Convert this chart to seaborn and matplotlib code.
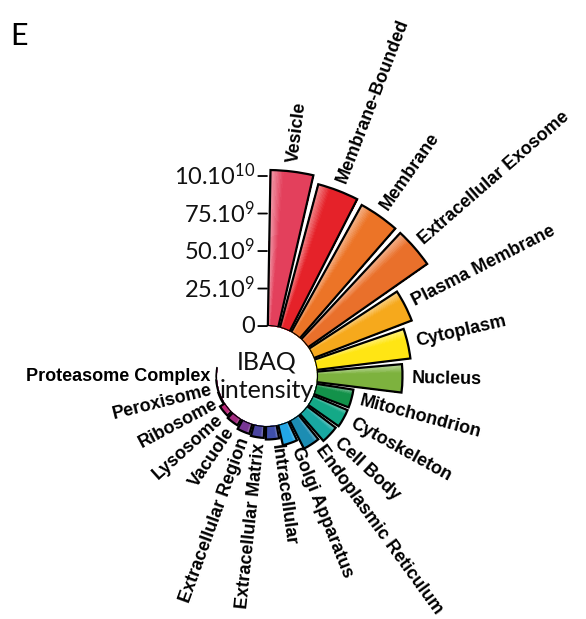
import numpy as np
import matplotlib
matplotlib.use('Agg')
import matplotlib.pyplot as plt
import seaborn as sns

# cellular compartments, clockwise from the top
compartments = ['Vesicle', 'Membrane-Bounded', 'Membrane', 'Extracellular Exosome',
                'Plasma Membrane', 'Cytoplasm', 'Nucleus', 'Mitochondrion',
                'Cytoskeleton', 'Cell Body', 'Endoplasmic Reticulum', 'Golgi Apparatus',
                'Intracellular', 'Extracellular Matrix', 'Extracellular Region',
                'Vacuole', 'Lysosome', 'Ribosome', 'Peroxisome', 'Proteasome Complex']
# IBAQ intensity, in units of 1e9
ibaq = [104, 99, 97, 97, 70, 63, 57, 25, 25, 24, 21, 14, 9, 8, 7, 5, 4, 1.0, 0.6, 0.3]
bar_colors = ['#E3405C', '#E52229', '#EC7427', '#E9702B', '#F6A91C', '#FFE514',
              '#7DB23E', '#13924A', '#14A987', '#18A8A2', '#1C8DB3', '#22A6E6',
              '#3F4FAA', '#4A44A0', '#783695', '#A22B80', '#BC2779', '#A1246E',
              '#8E1E60', '#6E1A4E']

tick_values = [0, 25, 50, 75, 100]
tick_labels = ['0', r'$\mathregular{25.10^{9}}$', r'$\mathregular{50.10^{9}}$',
               r'$\mathregular{75.10^{9}}$', r'$\mathregular{10.10^{10}}$']

sns.set_theme(style='white')
plt.rcParams['font.family'] = ['Lato', 'DejaVu Sans']
plt.rcParams['mathtext.fontset'] = 'custom'
plt.rcParams['mathtext.rm'] = 'Lato'

fig = plt.figure(figsize=(5.86, 6.19), dpi=100)
ax = fig.add_axes([0.0887, 0.0452, 0.7338, 0.6947], projection='polar')
ax.set_theta_zero_location('N')
ax.set_theta_direction(-1)
ax.set_rorigin(-33.3)
ax.set_ylim(0, 110)
ax.set_axis_off()

step = 14.0
frac = 0.86
n_slices = 30

for i, (name, val, col) in enumerate(zip(compartments, ibaq, bar_colors)):
    center = np.deg2rad(i * step + step / 2)
    width = np.deg2rad(step * frac)
    # light-to-dark gradient across each bar
    shades = sns.blend_palette(['#FFFFFF', col, col], n_colors=int(n_slices * 1.35))[-n_slices:]
    left = center - width / 2
    for j in range(n_slices):
        ax.bar(left + (j + 0.5) * width / n_slices, val, width=width / n_slices * 1.6,
               bottom=0, color=shades[j], edgecolor='none', linewidth=0,
               antialiased=False)
    ax.bar(center, val, width=width, bottom=0, fill=False,
           edgecolor='black', linewidth=1.6)

    # radial label (lower ones nudged a little anticlockwise, as in the figure)
    a = 90 - (i * step + step / 2)
    pad = 6
    if a < -50:
        a += 3
        pad = 4
    a = (a + 180) % 360 - 180
    if -90 < a <= 90:
        rot, ha = a, 'left'
    else:
        rot, ha = a + 180, 'right'
    ax.text(np.deg2rad(90 - a), val + pad, name, rotation=rot, rotation_mode='anchor',
            ha=ha, va='center', fontsize=13, fontweight='bold',
            family='Liberation Sans', color='black')

# radial axis ticks along the left edge of the first bar
for t, lab in zip(tick_values, tick_labels):
    ax.annotate(lab, xy=(0, t), xytext=(-12, 0), textcoords='offset pixels',
                ha='right', va='center', fontsize=17, color='#111111',
                arrowprops=dict(arrowstyle='-', lw=1.3, color='black',
                                shrinkA=0, shrinkB=0))

ax.text(0, -33.3, 'IBAQ\nintensity', ha='center', va='center',
        fontsize=18, linespacing=1.3, color='#111111')

fig.text(0.018, 0.965, 'E', fontsize=22, va='top', ha='left', color='black')

plt.savefig('out.png', dpi=100)
